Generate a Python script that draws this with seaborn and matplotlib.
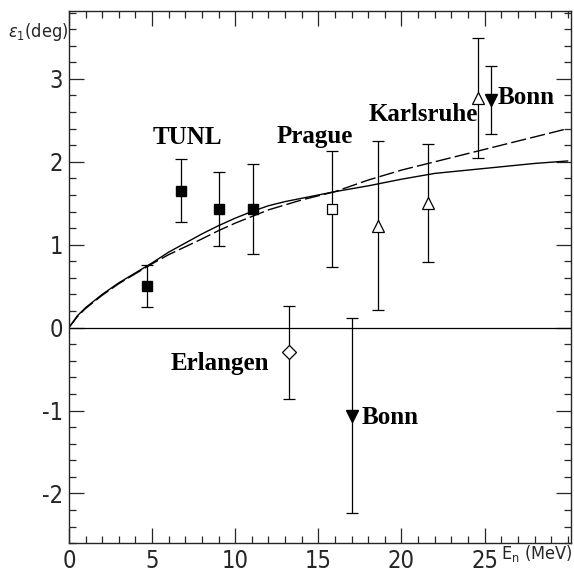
import numpy as np
import pandas as pd
import matplotlib
matplotlib.use("Agg")
import matplotlib.pyplot as plt
from matplotlib.ticker import MultipleLocator
import seaborn as sns

sns.set_style("ticks")
plt.rcParams['font.family'] = ['DejaVu Sans']
plt.rcParams['font.stretch'] = 'condensed'
plt.rcParams['axes.unicode_minus'] = False
plt.rcParams['mathtext.fontset'] = 'dejavusans'

# theory curves
curve_e = [0, 0.5, 1, 2, 3, 4, 5, 6, 8, 9, 10, 11, 12, 13, 14, 15, 16, 18, 20, 22, 24, 26, 28, 30]
curve_solid = [0, 0.14, 0.24, 0.40, 0.54, 0.66, 0.78, 0.91, 1.13, 1.23, 1.32, 1.40, 1.47, 1.52,
               1.56, 1.60, 1.64, 1.71, 1.79, 1.86, 1.90, 1.94, 1.98, 2.01]
curve_dashed = [0, 0.13, 0.23, 0.39, 0.53, 0.65, 0.77, 0.88, 1.07, 1.17, 1.26, 1.34, 1.42, 1.48,
                1.54, 1.59, 1.64, 1.78, 1.90, 2.00, 2.10, 2.20, 2.30, 2.40]

# measurements
tunl_e = [4.7, 6.75, 9.0, 11.1]
tunl_eps = [0.50, 1.65, 1.43, 1.43]
tunl_err = [0.25, 0.38, 0.45, 0.54]

prague_e = [15.8]
prague_eps = [1.43]
prague_err = [0.70]

karlsruhe_e = [18.6, 21.6, 24.6]
karlsruhe_eps = [1.23, 1.50, 2.77]
karlsruhe_err = [1.02, 0.71, 0.72]

erlangen_e = [13.25]
erlangen_eps = [-0.30]
erlangen_err = [0.56]

bonn_e = [17.0, 25.4]
bonn_eps = [-1.06, 2.75]
bonn_err = [1.18, 0.41]

fig = plt.figure(figsize=(5.74, 5.73), dpi=100)
ax = fig.add_axes([0.12, 0.052, 0.875, 0.929])

curves = pd.DataFrame({'E': curve_e, 'solid': curve_solid, 'dashed': curve_dashed})
sns.lineplot(data=curves, x='E', y='solid', ax=ax, color='black', lw=1.0)
sns.lineplot(data=curves, x='E', y='dashed', ax=ax, color='black', lw=1.0,
             dashes=False, linestyle=(0, (11, 3)))
ax.axhline(0, color='black', lw=0.9)

eb = dict(color='black', ecolor='black', elinewidth=0.9, capsize=4, capthick=0.9,
          linestyle='none', zorder=3)
ax.errorbar(tunl_e, tunl_eps, yerr=tunl_err, marker='s', ms=7.5, mfc='black', mec='black', **eb)
ax.errorbar(prague_e, prague_eps, yerr=prague_err, marker='s', ms=7.5, mfc='white', mec='black', mew=0.9, **eb)
ax.errorbar(karlsruhe_e, karlsruhe_eps, yerr=karlsruhe_err, marker='^', ms=8.5, mfc='white', mec='black', mew=0.9, **eb)
ax.errorbar(erlangen_e, erlangen_eps, yerr=erlangen_err, marker='D', ms=7, mfc='white', mec='black', mew=0.9, **eb)
ax.errorbar(bonn_e, bonn_eps, yerr=bonn_err, marker='v', ms=8.5, mfc='black', mec='black', **eb)

lab = dict(family='Liberation Serif', fontweight='bold', fontsize=18, color='black')
ax.text(7.1, 2.29, 'TUNL', ha='center', va='center', **lab)
ax.text(14.8, 2.31, 'Prague', ha='center', va='center', **lab)
ax.text(21.3, 2.57, 'Karlsruhe', ha='center', va='center', **lab)
ax.text(25.8, 2.77, 'Bonn', ha='left', va='center', **lab)
ax.text(9.1, -0.43, 'Erlangen', ha='center', va='center', **lab)
ax.text(17.6, -1.08, 'Bonn', ha='left', va='center', **lab)

ax.set_xlim(0, 30.2)
ax.set_ylim(-2.6, 3.82)
ax.set_xlabel('')
ax.set_ylabel('')
ax.xaxis.set_minor_locator(MultipleLocator(1))
ax.yaxis.set_major_locator(MultipleLocator(1))
ax.yaxis.set_minor_locator(MultipleLocator(0.2))
ax.set_xticks([0, 5, 10, 15, 20, 25])
ax.tick_params(which='both', direction='in', top=True, right=True, width=0.9)
ax.tick_params(which='major', length=11, labelsize=17, pad=4)
ax.tick_params(which='minor', length=5)
for s in ax.spines.values():
    s.set_linewidth(1.0)

fig.text(0.014, 0.944, r'$\varepsilon_1$(deg)', fontsize=13, ha='left', va='center')
fig.text(0.997, 0.034, r'E$_\mathregular{n}$ (MeV)', fontsize=13, ha='right', va='center')

fig.savefig('out.png', dpi=100)
